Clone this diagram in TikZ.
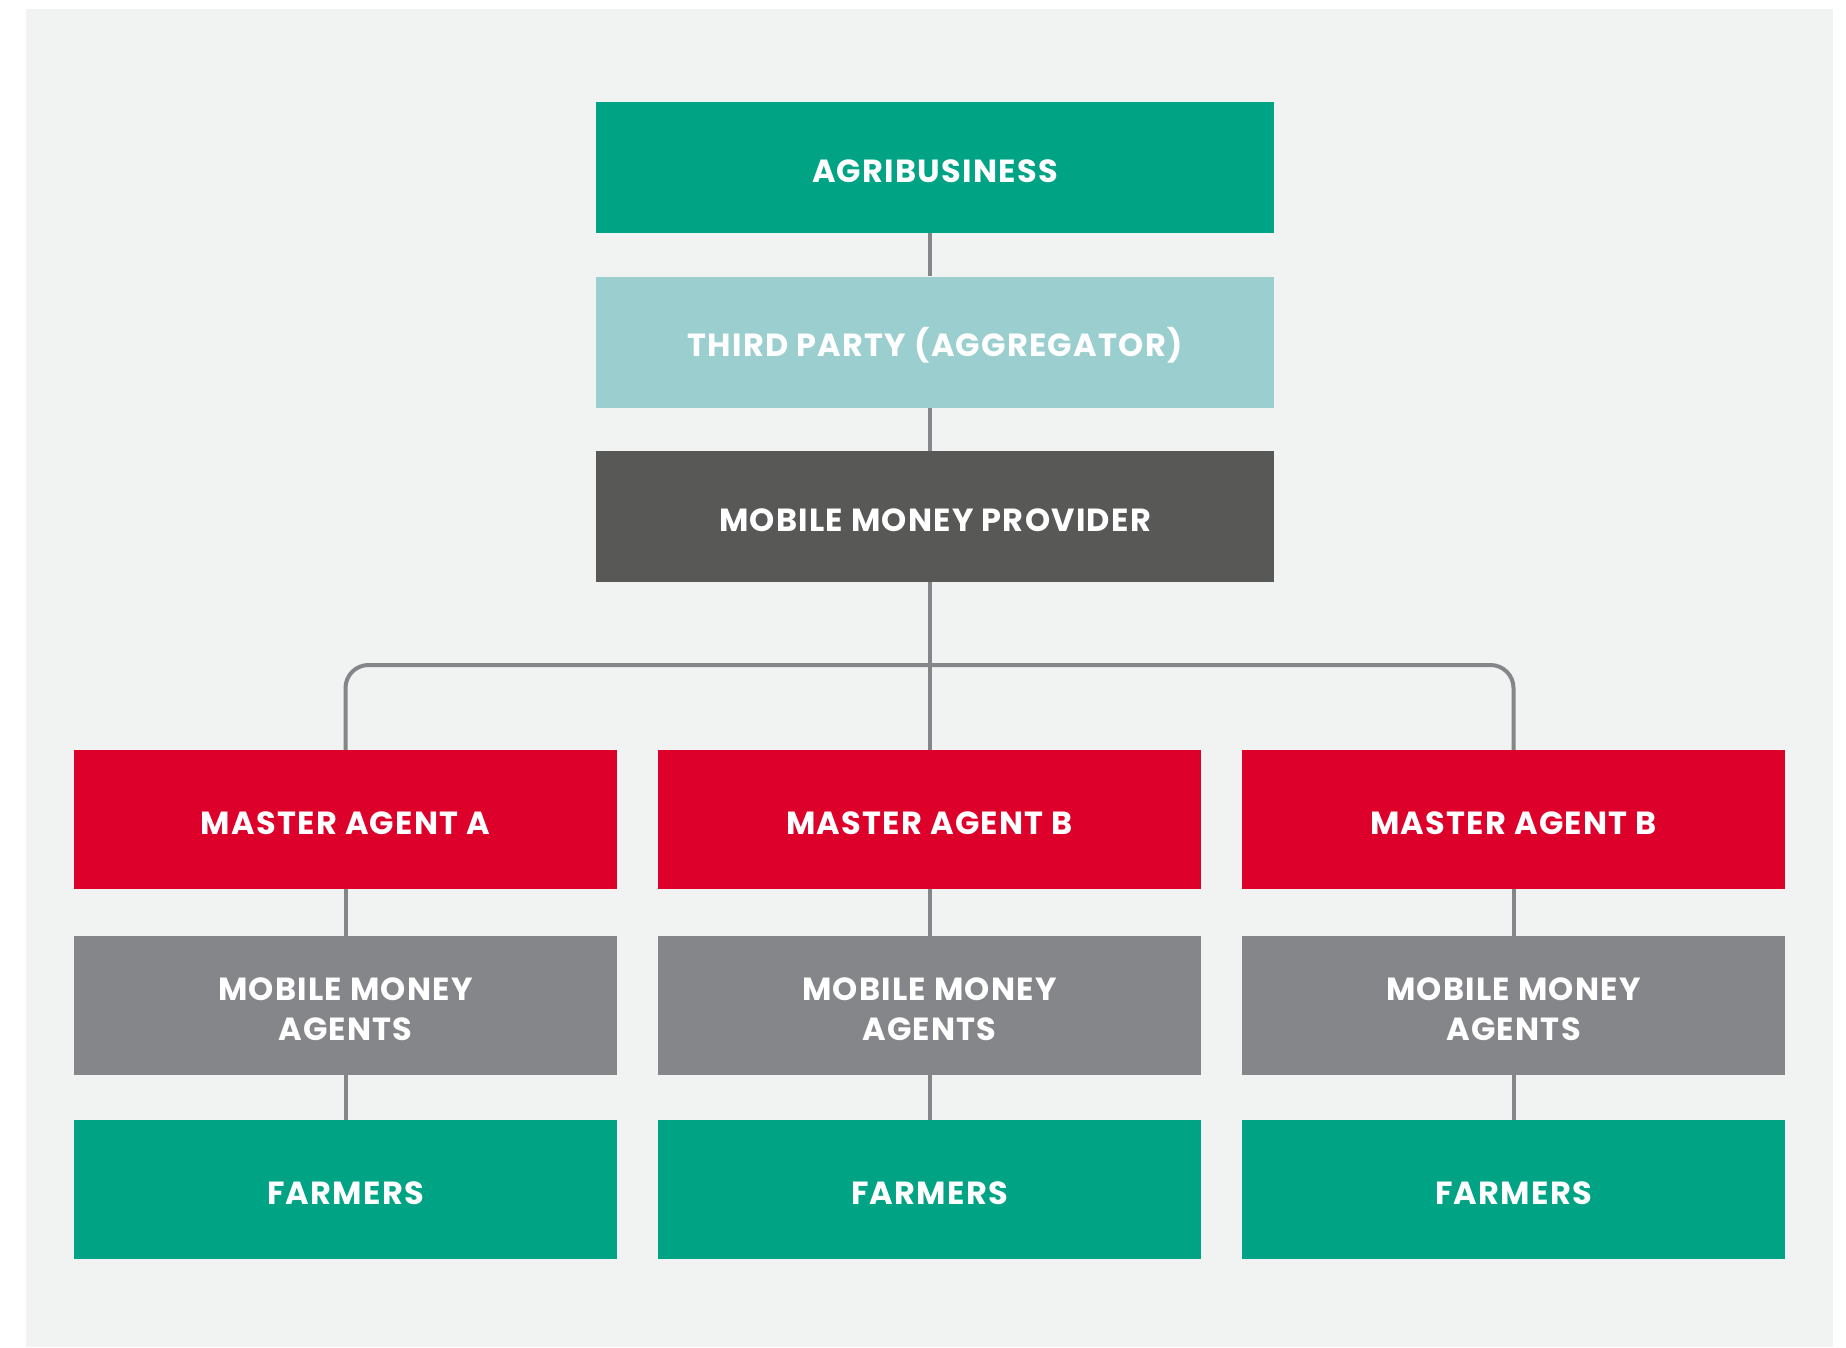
\documentclass[tikz,border=0pt]{standalone}
\usepackage{fontspec}
\setmainfont{Poppins}[LetterSpace=4]
\definecolor{bggray}{HTML}{F1F2F2}
\definecolor{agreen}{HTML}{00A384}
\definecolor{lteal}{HTML}{9BCFCF}
\definecolor{dgray}{HTML}{585857}
\definecolor{ared}{HTML}{DC002B}
\definecolor{mgray}{HTML}{858689}
\begin{document}
\begin{tikzpicture}[x=1pt,y=-1pt,
  box/.style={draw=none,minimum width=678pt,minimum height=131pt,inner sep=0pt,
    text=white,font=\bfseries\fontsize{32}{40}\selectfont,align=center,
    text height=29pt,text depth=0pt},
  colbox/.style={box,minimum width=543pt,minimum height=139pt},
  twoline/.style={text height=69pt,text depth=0pt},
  conn/.style={draw=mgray,line width=4pt}]
\useasboundingbox (0,0) rectangle (1846,1347);
\fill[bggray] (26,9) rectangle (1833,1347);
% nodes
\node[box,fill=agreen] (agri) at (935,167.5) {AGRIBUSINESS};
\node[box,fill=lteal] (third) at (935,342) {THIRD PARTY (AGGREGATOR)};
\node[box,fill=dgray] (mmp) at (935,516.5) {MOBILE MONEY PROVIDER};
\node[colbox,fill=ared] (m1) at (345.5,819.5) {MASTER AGENT A};
\node[colbox,fill=ared] (m2) at (929.5,819.5) {MASTER AGENT B};
\node[colbox,fill=ared] (m3) at (1513.5,819.5) {MASTER AGENT B};
\node[colbox,twoline,fill=mgray] (a1) at (345.5,1005.5) {MOBILE MONEY\\AGENTS};
\node[colbox,twoline,fill=mgray] (a2) at (929.5,1005.5) {MOBILE MONEY\\AGENTS};
\node[colbox,twoline,fill=mgray] (a3) at (1513.5,1005.5) {MOBILE MONEY\\AGENTS};
\node[colbox,fill=agreen] (f1) at (345.5,1189.5) {FARMERS};
\node[colbox,fill=agreen] (f2) at (929.5,1189.5) {FARMERS};
\node[colbox,fill=agreen] (f3) at (1513.5,1189.5) {FARMERS};
\coordinate (bar) at (0,665);
% connectors
\draw[conn] (agri.south -| m2.north) -- (third.north -| m2.north);
\draw[conn] (third.south -| m2.north) -- (mmp.north -| m2.north);
\draw[conn] (mmp.south -| m2.north) -- (m2.north);
\draw[conn,rounded corners=23pt] (m1.north) -- (m1.north |- bar) -- (m3.north |- bar) -- (m3.north);
\foreach \i in {1,2,3}{
  \draw[conn] (m\i.south) -- (a\i.north);
  \draw[conn] (a\i.south) -- (f\i.north);
}
\end{tikzpicture}
\end{document}
